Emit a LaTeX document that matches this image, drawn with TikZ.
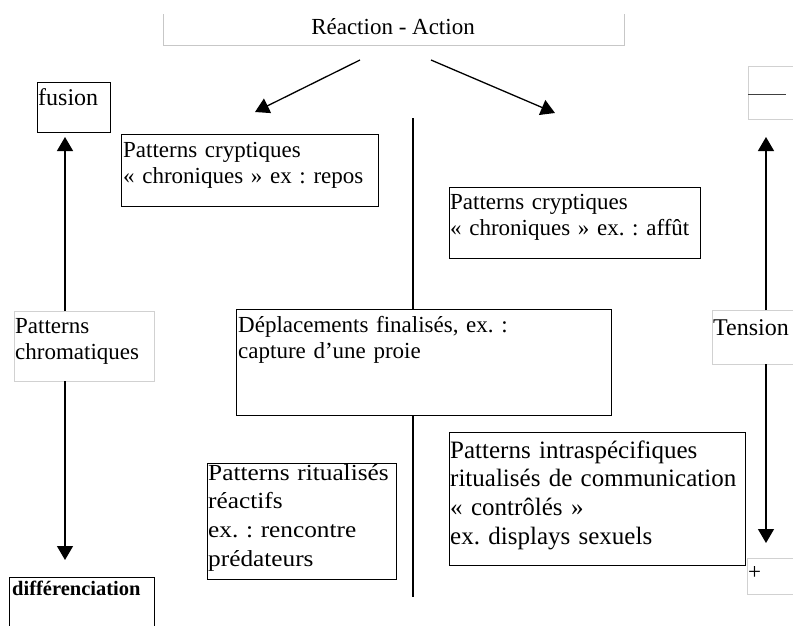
\documentclass[tikz,border=0pt]{standalone}
\usepackage{fontspec}
\setmainfont{Liberation Serif}
\newfontfamily\stretchedfont[FakeStretch=1.1]{Liberation Serif}
\usetikzlibrary{arrows.meta}
\begin{document}
\frenchspacing
\begin{tikzpicture}[x=1pt,y=-1pt,
  blackbox/.style={draw=black, line width=1.3pt, fill=white, anchor=north west, inner sep=0pt},
  graybox/.style={draw=black!18, line width=0.8pt, fill=white, anchor=north west, inner sep=0pt},
  txt/.style={anchor=base west, inner sep=0pt, align=left, text width=#1, font=\fontsize{23}{26.5}\selectfont},
  txt/.default=330,
  bigtxt/.style={anchor=base west, inner sep=0pt, align=left, text width=#1, font=\fontsize{25}{28.7}\selectfont},
  bigtxt/.default=330,
  arr/.style={line width=1.3pt, -{Triangle[width=16pt,length=14pt]}},
  vline/.style={line width=1.3pt}
]
\useasboundingbox (0,0) rectangle (793,625);
\clip (0,0) rectangle (793,625);

% title
\node[anchor=base, inner sep=0pt, font=\fontsize{23}{26.5}\selectfont] (title) at (393,34) {Réaction - Action};
\coordinate (tl) at (163,14);
\coordinate (tbl) at (163,45);
\coordinate (tbr) at (624,45);
\coordinate (tr) at (624,14);
\draw[black!22, line width=0.8pt] (tl) -- (tbl) -- (tbr) -- (tr);

% diagonal arrows
\coordinate (a1s) at (360,60);
\coordinate (a1e) at (255,112);
\coordinate (a2s) at (431,60);
\coordinate (a2e) at (555,113);
\draw[arr] (a1s) -- (a1e);
\draw[arr] (a2s) -- (a2e);

% central vertical line
\coordinate (vtop) at (413,118);
\coordinate (vbot) at (413,597);
\draw[vline] (vtop) -- (vbot);

% left column
\node[blackbox, minimum width=73, minimum height=50] (fusion) at (37,82) {};
\node[txt=70, font=\fontsize{24}{27}\selectfont] (fusiont) at (38,105) {fusion};
\node[graybox, minimum width=140, minimum height=70] (chrom) at (14,311) {};
\node[txt=140] (chromt) at (15,333) {Patterns\\chromatiques};
\node[blackbox, minimum width=145, minimum height=80] (diff) at (9,577) {};
\node[txt=145, font=\fontsize{20.5}{24}\selectfont\bfseries] (difft) at (12,595) {différenciation};
\coordinate (lup) at (65,311);
\coordinate (luptip) at (65,137);
\coordinate (ldn) at (65,381);
\coordinate (ldntip) at (65,560);
\draw[arr] (lup) -- (luptip);
\draw[arr] (ldn) -- (ldntip);

% right column
\node[graybox, minimum width=60, minimum height=53] (minus) at (748,66) {};
\coordinate (m1) at (748,94);
\coordinate (m2) at (786,94);
\draw[black!75, line width=1pt] (m1) -- (m2);
\node[graybox, minimum width=100, minimum height=54] (tension) at (712,310) {};
\node[txt=90, font=\fontsize{24}{27}\selectfont] (tensiont) at (713,335) {Tension};
\node[graybox, minimum width=60, minimum height=36] (plus) at (747,558) {};
\node[txt=30] (plust) at (748,579) {+};
\coordinate (rup) at (766,310);
\coordinate (ruptip) at (766,137);
\coordinate (rdn) at (766,364);
\coordinate (rdntip) at (766,543);
\draw[arr] (rup) -- (ruptip);
\draw[arr] (rdn) -- (rdntip);

% central boxes
\node[blackbox, minimum width=257, minimum height=72] (repos) at (121,134) {};
\node[txt] (repost) at (123,157) {Patterns cryptiques\\« chroniques » ex : repos};
\node[blackbox, minimum width=251, minimum height=71] (affut) at (449,187) {};
\node[txt] (affutt) at (450,209) {Patterns cryptiques\\« chroniques » ex. : affût};
\node[blackbox, minimum width=375, minimum height=106] (depl) at (236,309) {};
\node[txt=370] (deplt) at (238,332) {Déplacements finalisés, ex. :\\capture d’une proie};
\node[blackbox, minimum width=189, minimum height=116] (ritu) at (207,463) {};
\node[txt=185, font=\stretchedfont\fontsize{23}{28.7}\selectfont] (ritut) at (208,480) {Patterns ritualisés\\réactifs\\ex. : rencontre\\prédateurs};
\node[blackbox, minimum width=296, minimum height=133] (intra) at (449,432) {};
\node[bigtxt=296] (intrat) at (450,458) {Patterns intraspécifiques\\ritualisés de communication\\« contrôlés »\\ex. displays sexuels};
\end{tikzpicture}
\end{document}
